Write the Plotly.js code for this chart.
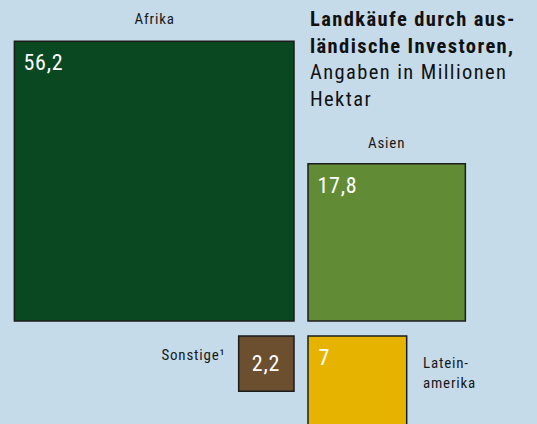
<!DOCTYPE html>
<html><head><meta charset="utf-8">
<script src="https://cdn.plot.ly/plotly-3.0.1.min.js"></script>
<style>html,body{margin:0;padding:0;background:#c6dbea;}#chart{width:537px;height:424px;}</style>
</head><body><div id="chart"></div>
<script>
const regions = ["Afrika", "Asien", "Sonstige¹", "Latein-<br>amerika"];
const values = [56.2, 17.8, 2.2, 7];
const colors = ["#0a4821", "#618c35", "#6b4f2e", "#e6b400"];
const quadX = [-1, 1, -1, 1];
const quadY = [1, 1, -1, -1];
const titleLines = ["<b>Landkäufe durch aus-</b>", "<b>ländische Investoren,</b>", "Angaben in Millionen", "Hektar"];

const W = 537, H = 424, k = 37.3;      // pixels per sqrt(Mio ha)
const cx = 301, cy = 328.5;             // centre of the cross gap (px)
const gx = 7 / k, gy = 7.5 / k;         // half gaps in data units
const fmt = v => String(v).replace('.', ',');
const FONT = "Roboto Condensed, DejaVu Sans Condensed, sans-serif";

function corner(i) {
  const s = Math.sqrt(values[i]);
  const xs = [quadX[i] * gx, quadX[i] * (gx + s)], ys = [quadY[i] * gy, quadY[i] * (gy + s)];
  return {xl: Math.min(...xs), xr: Math.max(...xs), yt: Math.max(...ys), yb: Math.min(...ys)};
}

const shapes = values.map((v, i) => {
  const c = corner(i);
  return {type: 'rect', xref: 'x', yref: 'y', x0: c.xl, x1: c.xr, y0: c.yb, y1: c.yt,
    fillcolor: colors[i], line: {color: '#1c1c1c', width: 1.5}, layer: 'below'};
});

const ann = [];
const vf = {family: FONT, size: 22, color: '#ffffff'};
[0, 1, 3].forEach(i => {
  const c = corner(i);
  ann.push({xref: 'x', yref: 'y', x: c.xl + 9 / k, y: c.yt - 7 / k, xanchor: 'left', yanchor: 'top',
    text: fmt(values[i]), showarrow: false, font: vf});
});
{
  const c = corner(2);
  ann.push({xref: 'x', yref: 'y', x: (c.xl + c.xr) / 2, y: (c.yt + c.yb) / 2, xanchor: 'center', yanchor: 'middle',
    text: fmt(values[2]), showarrow: false, font: vf});
}
const lf = {family: FONT, size: 15, color: '#1a1a1a'};
{
  const c = corner(0);
  ann.push({xref: 'x', yref: 'y', x: (c.xl + c.xr) / 2, y: c.yt + 11 / k, xanchor: 'center', yanchor: 'bottom', text: regions[0], showarrow: false, font: lf});
  const a = corner(1);
  ann.push({xref: 'x', yref: 'y', x: (a.xl + a.xr) / 2, y: a.yt + 10 / k, xanchor: 'center', yanchor: 'bottom', text: regions[1], showarrow: false, font: lf});
  const s = corner(2);
  ann.push({xref: 'x', yref: 'y', x: s.xl - 15 / k, y: s.yt - 8 / k, xanchor: 'right', yanchor: 'top', text: regions[2], showarrow: false, font: lf});
  const la = corner(3);
  ann.push({xref: 'x', yref: 'y', x: la.xr + 14 / k, y: la.yt - 16 / k, xanchor: 'left', yanchor: 'top', text: regions[3], showarrow: false, font: lf, align: 'left'});
}
ann.push({xref: 'paper', yref: 'paper', x: 308 / W, y: 1 - 5 / H, xanchor: 'left', yanchor: 'top', align: 'left',
  text: titleLines.join('<br>'), showarrow: false, font: {family: FONT, size: 20.5, color: '#111111'}});

const trace = {type: 'scatter', mode: 'markers', x: [0], y: [0], marker: {opacity: 0}, hoverinfo: 'skip', showlegend: false};
const layout = {
  width: W, height: H, margin: {l: 0, r: 0, t: 0, b: 0},
  paper_bgcolor: '#c6dbea', plot_bgcolor: '#c6dbea',
  xaxis: {range: [-cx / k, (W - cx) / k], visible: false, fixedrange: true},
  yaxis: {range: [-(H - cy) / k, cy / k], visible: false, fixedrange: true},
  shapes: shapes, annotations: ann, showlegend: false
};
Plotly.newPlot('chart', [trace], layout, {staticPlot: true, displayModeBar: false}).then(() => {
  const els = document.querySelectorAll('.annotation-text');
  els.forEach((el, i) => { el.style.letterSpacing = (i === els.length - 1) ? '1.4px' : '0.8px'; });
});
</script></body></html>
